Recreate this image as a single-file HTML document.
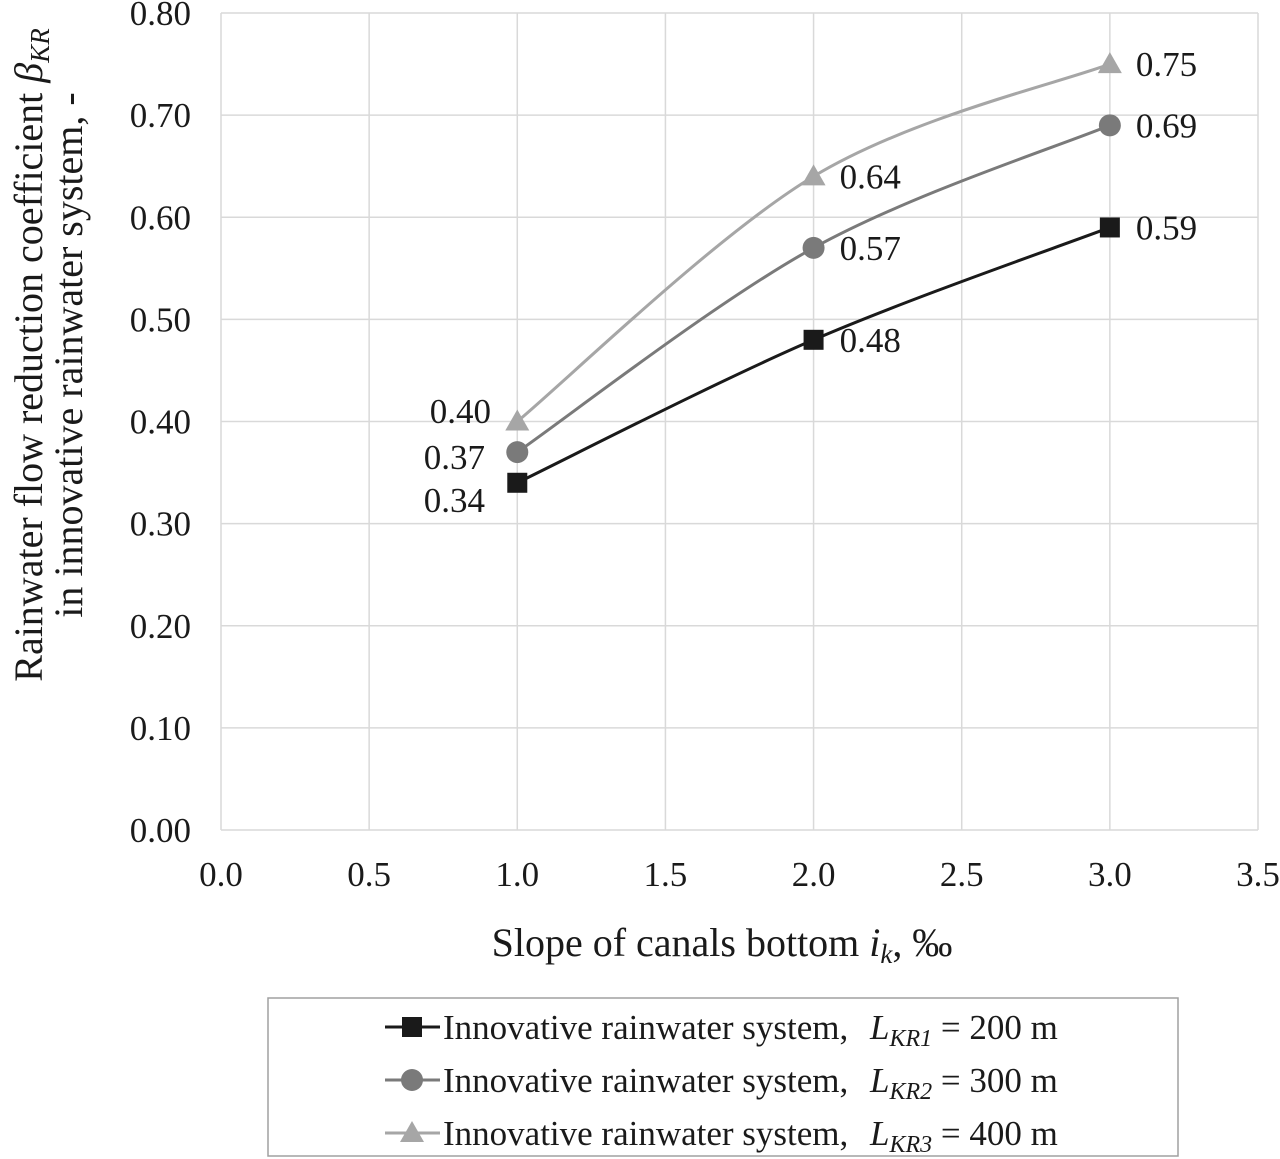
<!DOCTYPE html>
<html><head><meta charset="utf-8"><style>
body{margin:0;background:#fff;}
svg{display:block;font-family:"Liberation Serif",serif;}
</style></head><body>
<svg id="chart" width="1280" height="1159" viewBox="0 0 1280 1159" xmlns="http://www.w3.org/2000/svg">
<g id="grid"></g>
<g id="axes"></g>
<g id="series"></g>
<g transform="translate(42,355) rotate(-90)">
<text x="0" y="0" text-anchor="middle" font-size="40" fill="#1a1a1a">Rainwater flow reduction coefficient <tspan font-style="italic">β</tspan><tspan font-style="italic" font-size="27" dy="7">KR</tspan></text>
<text x="0" y="40" text-anchor="middle" font-size="40" fill="#1a1a1a">in innovative rainwater system, -</text>
</g>
<text x="722" y="956" text-anchor="middle" font-size="40" fill="#1a1a1a">Slope of canals bottom <tspan font-style="italic">i</tspan><tspan font-style="italic" font-size="27" dy="7">k</tspan><tspan dy="-7">, ‰</tspan></text>
<g>
<rect x="268" y="998" width="910" height="158" fill="#fff" stroke="#a0a0a0" stroke-width="1.5"/>
<g id="legend-items"></g>
</g>
</svg>
<script>
const xTicks=[0,0.5,1,1.5,2,2.5,3,3.5];
const yTicks=[0,0.1,0.2,0.3,0.4,0.5,0.6,0.7,0.8];
const xValues=[1,2,3];
const s1=[0.34,0.48,0.59];
const s2=[0.37,0.57,0.69];
const s3=[0.40,0.64,0.75];
const seriesNames=["L_KR1 = 200 m","L_KR2 = 300 m","L_KR3 = 400 m"];
const NS="http://www.w3.org/2000/svg";
const X=v=>221+v*(1258-221)/3.5;
const Y=v=>830-v*(830-13)/0.8;
function mk(tag,attrs,parent,text){const e=document.createElementNS(NS,tag);for(const k in attrs)e.setAttribute(k,attrs[k]);if(text!==undefined)e.textContent=text;parent.appendChild(e);return e;}
const grid=document.getElementById('grid'),axes=document.getElementById('axes'),ser=document.getElementById('series');
xTicks.forEach(t=>{
 const l=mk('line',{x1:X(t),x2:X(t),y1:Y(0.8),y2:Y(0),stroke:'#d9d9d9','stroke-width':1.5},grid);
 
 
 const tx=mk('text',{x:X(t),y:886,'text-anchor':'middle','font-size':35,fill:'#1a1a1a'},axes,t.toFixed(1));
 
 
});
yTicks.forEach(t=>{
 const l=mk('line',{x1:X(0),x2:X(3.5),y1:Y(t),y2:Y(t),stroke:'#d9d9d9','stroke-width':1.5},grid);
 
 
 const tx=mk('text',{x:191,y:Y(t)+12,'text-anchor':'end','font-size':35,fill:'#1a1a1a'},axes,t.toFixed(2));
 
 
});
function smooth(pts){
 let d=`M${pts[0][0]},${pts[0][1]}`;
 for(let i=0;i<pts.length-1;i++){
  const p0=pts[i-1]||pts[i],p1=pts[i],p2=pts[i+1],p3=pts[i+2]||p2;
  const t=1/3;
  const c1=[p1[0]+(p2[0]-p0[0])*t/2,p1[1]+(p2[1]-p0[1])*t/2];
  const c2=[p2[0]-(p3[0]-p1[0])*t/2,p2[1]-(p3[1]-p1[1])*t/2];
  d+=` C${c1[0]},${c1[1]} ${c2[0]},${c2[1]} ${p2[0]},${p2[1]}`;
 }
 return d;
}
const colors=['#1a1a1a','#7a7a7a','#a6a6a6'];
const shapes=['square','circle','triangle'];
const all=[s1,s2,s3];
const leftLabelOff=[[485,512],[485,469],[491,423]];
function marker(shape,x,y,c,parent){
 if(shape==='square')return mk('rect',{x:x-10,y:y-10,width:20,height:20,fill:c},parent);
 if(shape==='circle')return mk('circle',{cx:x,cy:y,r:11,fill:c},parent);
 return mk('polygon',{points:`${x},${y-12} ${x+12},${y+9} ${x-12},${y+9}`,fill:c},parent);
}
[2,1,0].forEach(si=>{
 const vals=all[si],c=colors[si];
 const g=mk('g',{},ser);
 
 
 const pts=xValues.map((x,i)=>[X(x),Y(vals[i])]);
 const p=mk('path',{d:smooth(pts),fill:'none',stroke:c,'stroke-width':3},g);
 
 
 pts.forEach((pt,i)=>{
  const m=marker(shapes[si],pt[0],pt[1],c,g);
  
  
  let lx,ly,anc;
  if(i===0){lx=leftLabelOff[si][0];ly=Y(0)-(830-leftLabelOff[si][1]);anc='end';}
  else{lx=pt[0]+26;ly=pt[1]+12;anc='start';}
  const t=mk('text',{x:lx,y:ly,'text-anchor':anc,'font-size':35,fill:'#1a1a1a'},g,vals[i].toFixed(2));
  
  
 });
});
const li=document.getElementById('legend-items');
[1027,1080,1133].forEach((y,i)=>{
 const g=mk('g',{},li);
 
 
 mk('line',{x1:385,x2:440,y1:y,y2:y,stroke:colors[i],'stroke-width':3},g);
 marker(shapes[i],412,y,colors[i],g);
 const t=mk('text',{x:443,y:y+12,'font-size':35,fill:'#1a1a1a'},g);
 const nm=seriesNames[i].split(' = ');
 const sub=nm[0].split('_')[1];
 t.innerHTML=`Innovative rainwater system,<tspan font-style="italic" x="870">L</tspan><tspan font-style="italic" font-size="24" dy="7">${sub}</tspan><tspan dy="-7"> = ${nm[1]}</tspan>`;
});
</script>
</body></html>
